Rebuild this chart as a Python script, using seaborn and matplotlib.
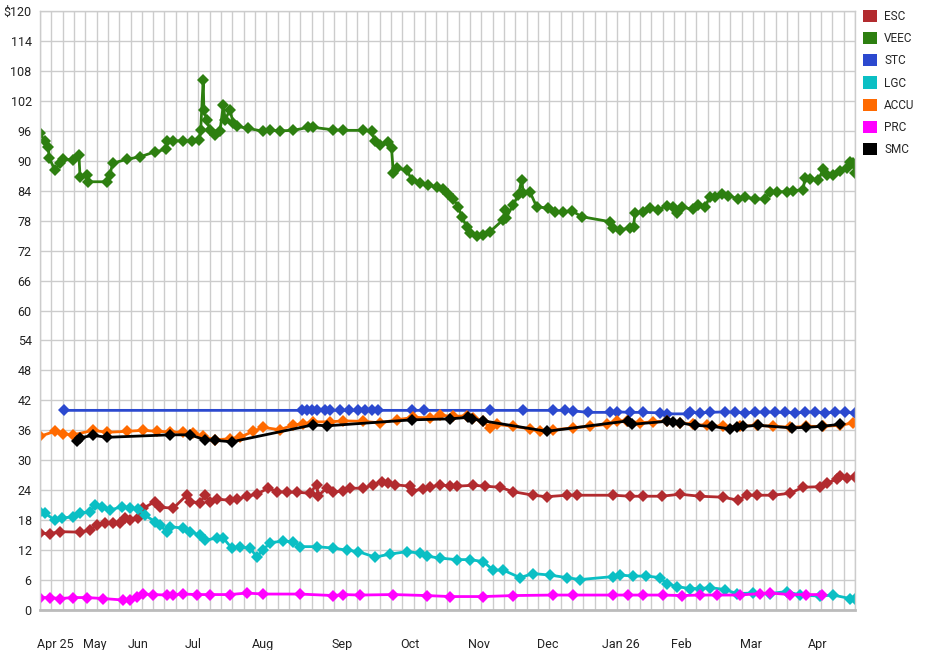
import pandas as pd
import matplotlib.pyplot as plt
from matplotlib.patches import Patch
import seaborn as sns

# (day, price) points, day 0 = left edge of the axis
esc = [(0, 15.4), (4.4, 15.3), (8.8, 15.7), (17.7, 15.6), (22.1, 16.0), (25.0, 17.0), (28.7, 17.4),
       (32.4, 17.4), (35.3, 17.5), (37.5, 18.4), (39.8, 18.0), (43.4, 18.4), (45.6, 20.4), (50.8, 21.7),
       (53.0, 20.6), (58.9, 20.4), (64.8, 23.0), (66.3, 21.7), (70.7, 21.5), (72.9, 23.0), (75.1, 21.7),
       (78.0, 22.2), (83.9, 22.0), (86.9, 22.2), (91.3, 22.8), (95.7, 23.2), (100.8, 24.4), (104.6, 23.7),
       (109.0, 23.6), (113.4, 23.6), (119.3, 23.4), (122.2, 25.1), (122.9, 22.9), (126.6, 24.4),
       (129.6, 23.7), (134.0, 23.8), (136.9, 24.4), (142.8, 24.4), (147.2, 25.1), (150.9, 25.7),
       (153.8, 25.4), (156.8, 25.1), (163.4, 24.8), (164.2, 23.9), (169.3, 24.2), (172.3, 24.6),
       (176.7, 25.1), (181.1, 24.8), (184.0, 24.8), (191.4, 25.0), (196.6, 24.8), (203.2, 24.6),
       (209.1, 23.7), (217.9, 23.0), (223.8, 22.7), (232.6, 23.0), (237.1, 23.0), (253.2, 23.0),
       (260.6, 22.8), (266.5, 22.8), (274.6, 22.8), (282.7, 23.2), (291.5, 22.8), (301.8, 22.6),
       (308.4, 22.0), (312.1, 23.0), (316.6, 23.0), (323.9, 23.0), (331.3, 23.4), (337.1, 24.6),
       (344.5, 24.7), (347.5, 25.4), (351.9, 26.2), (353.4, 26.9), (356.3, 26.4), (360, 26.7)]

veec = [(0, 95.5), (2.2, 93.9), (3.7, 92.8), (4.1, 90.5), (6.6, 88.2), (8.8, 89.5), (10.3, 90.3),
        (14.7, 90.2), (17.2, 91.2), (17.7, 86.8), (20.9, 87.2), (21.3, 85.8), (29.7, 85.8), (30.9, 87.2),
        (32.1, 89.5), (38.3, 90.3), (44.2, 90.8), (50.8, 91.8), (55.7, 92.3), (56.0, 94.0), (58.9, 94.0),
        (63.3, 94.0), (67.0, 94.0), (70.4, 94.2), (71.0, 96.2), (72.1, 106.2), (72.4, 100.2), (73.6, 98.2),
        (75.1, 96.2), (77.3, 95.2), (79.5, 95.9), (81.0, 101.2), (81.8, 98.2), (83.9, 100.2), (85.4, 97.5),
        (86.9, 96.9), (92.0, 96.5), (98.6, 95.9), (101.6, 96.1), (106.0, 96.0), (111.9, 96.1),
        (118.5, 96.7), (120.7, 96.7), (129.6, 96.2), (134.0, 96.1), (142.8, 96.1), (146.5, 95.9),
        (148.0, 93.9), (150.2, 93.2), (153.8, 93.7), (155.3, 92.5), (156.1, 87.5), (157.6, 88.5),
        (162.0, 88.2), (164.2, 86.2), (167.8, 85.6), (171.5, 85.2), (175.2, 84.7), (178.1, 84.3),
        (180.3, 83.4), (182.6, 82.3), (184.8, 80.8), (186.3, 78.8), (188.5, 76.8), (189.9, 75.5),
        (192.9, 74.9), (195.8, 75.2), (198.8, 75.8), (204.6, 78.2), (205.4, 80.2), (205.8, 78.5),
        (209.1, 81.2), (211.3, 83.2), (212.8, 86.2), (213.5, 83.5), (216.4, 83.8), (219.4, 80.8),
        (224.5, 80.5), (227.5, 79.8), (231.1, 79.8), (234.9, 80.0), (239.3, 78.8), (251.8, 77.8),
        (253.3, 76.5), (256.2, 76.2), (260.6, 76.5), (262.2, 76.8), (262.8, 79.5), (266.5, 79.8),
        (269.4, 80.5), (273.1, 80.2), (276.8, 81.0), (279.7, 80.8), (281.2, 79.5), (283.4, 80.7),
        (288.6, 80.3), (290.8, 81.2), (293.7, 80.7), (295.9, 82.8), (298.1, 82.8), (301.1, 83.4),
        (304.0, 83.0), (308.4, 82.4), (311.4, 82.7), (315.8, 82.4), (320.2, 82.3), (322.4, 83.8),
        (325.4, 83.8), (329.8, 83.8), (332.7, 84.0), (337.1, 84.2), (337.9, 86.5), (340.1, 86.3),
        (343.8, 86.2), (346.0, 88.3), (347.5, 87.2), (350.4, 87.2), (353.4, 87.9), (356.3, 88.5),
        (357.8, 89.8), (359.3, 89.5), (360, 87.5)]

stc = [(10.6, 40.0), (115.7, 40.0), (117.9, 40.0), (120.1, 40.0), (122.3, 40.0), (125.9, 40.0),
       (128.1, 40.0), (132.5, 40.0), (136.5, 40.0), (140.5, 40.0), (143.6, 40.0), (146.6, 40.0),
       (149.3, 40.0), (164.3, 40.0), (169.6, 40.0), (198.8, 40.0), (213.3, 40.0), (226.6, 40.0),
       (231.9, 40.0), (235.4, 39.9), (242.1, 39.6), (251.8, 39.6), (254.9, 39.7), (260.6, 39.6),
       (266.3, 39.6), (273.9, 39.5), (276.9, 39.3), (286.2, 39.3), (287.1, 39.6), (291.5, 39.5),
       (295.9, 39.6), (302.6, 39.7), (307.0, 39.6), (311.4, 39.5), (315.8, 39.6), (320.2, 39.7),
       (324.7, 39.6), (329.1, 39.6), (333.5, 39.5), (337.9, 39.6), (342.3, 39.7), (346.7, 39.5),
       (351.1, 39.6), (355.6, 39.7), (360, 39.4)]

lgc = [(0, 19.7), (2.2, 19.4), (6.6, 18.0), (9.6, 18.4), (14.7, 18.7), (17.7, 19.4), (22.1, 19.7),
       (24.3, 21.0), (27.3, 20.7), (30.9, 20.0), (36.1, 20.7), (39.8, 20.5), (43.4, 20.2), (46.4, 19.0),
       (50.8, 17.7), (53.0, 17.0), (56.0, 15.7), (57.4, 16.7), (63.3, 16.4), (66.3, 15.7), (70.7, 15.0),
       (72.9, 14.0), (78.0, 14.4), (81.0, 14.4), (84.7, 12.4), (88.3, 12.6), (92.8, 12.4), (95.7, 10.7),
       (98.6, 12.0), (101.6, 13.5), (107.5, 13.8), (111.9, 13.7), (114.8, 12.7), (122.2, 12.7),
       (129.6, 12.4), (135.5, 12.0), (140.6, 11.7), (148.0, 10.6), (154.6, 11.2), (162.0, 11.7),
       (167.8, 11.4), (170.8, 10.8), (176.7, 10.4), (184.0, 10.1), (189.9, 10.1), (195.8, 9.7),
       (200.2, 8.0), (204.6, 8.0), (212.0, 6.5), (217.9, 7.3), (225.3, 7.0), (232.6, 6.5), (238.5, 6.1),
       (253.2, 6.7), (256.2, 7.0), (262.1, 6.8), (267.9, 6.8), (273.9, 6.5), (276.8, 5.3), (281.2, 4.7),
       (287.1, 4.3), (291.5, 4.3), (295.9, 4.5), (302.6, 4.1), (307.7, 3.3), (315.1, 3.4), (322.4, 3.3),
       (329.8, 3.7), (335.7, 3.0), (344.5, 2.8), (350.4, 3.0), (357.8, 2.3), (360, 2.3)]

accu = [(0, 34.8), (6.6, 35.8), (10.3, 35.3), (14.7, 35.1), (23.5, 36.0), (29.5, 35.6), (38.3, 35.8),
        (45.6, 36.0), (51.5, 35.8), (57.4, 35.7), (63.3, 35.6), (67.7, 35.5), (72.1, 34.8), (77.3, 34.1),
        (83.9, 34.3), (88.3, 34.6), (94.2, 35.8), (98.6, 36.6), (106.0, 36.1), (111.9, 37.1),
        (116.3, 37.3), (120.7, 37.7), (128.1, 37.7), (134.0, 37.9), (142.8, 37.8), (150.2, 37.5),
        (157.6, 38.1), (164.9, 38.6), (172.3, 38.5), (176.7, 39.0), (182.6, 38.8), (188.5, 38.9),
        (191.4, 38.5), (195.8, 37.8), (198.8, 36.5), (201.7, 37.2), (209.1, 36.8), (216.4, 36.3),
        (220.9, 35.8), (226.7, 36.1), (235.6, 36.5), (242.9, 36.8), (250.3, 37.2), (254.7, 37.9),
        (259.2, 37.9), (265.0, 37.5), (270.9, 37.7), (276.8, 37.9), (282.7, 37.5), (288.6, 37.2),
        (294.5, 37.0), (301.8, 36.8), (309.2, 36.8), (316.6, 37.0), (323.9, 36.8), (331.3, 36.6),
        (338.6, 36.8), (346.0, 36.8), (353.4, 37.0), (359.3, 37.5)]

prc = [(0, 2.5), (4.4, 2.5), (8.8, 2.3), (14.7, 2.5), (20.6, 2.5), (28.0, 2.3), (36.8, 2.0), (39.8, 2.0),
       (42.7, 2.6), (45.6, 3.2), (50.0, 3.1), (56.0, 3.0), (58.9, 3.1), (63.3, 3.2), (69.2, 3.1),
       (75.1, 3.1), (83.9, 3.1), (91.3, 3.4), (98.6, 3.2), (114.8, 3.2), (129.6, 2.9), (134.0, 3.1),
       (141.3, 3.0), (156.1, 3.1), (170.8, 2.9), (181.1, 2.7), (195.8, 2.7), (209.1, 2.9), (226.7, 3.0),
       (235.6, 3.0), (253.2, 3.0), (259.9, 3.0), (266.5, 3.0), (275.3, 3.0), (283.4, 2.9), (291.5, 3.0),
       (298.9, 3.0), (309.2, 3.0), (318.0, 3.3), (322.4, 3.4), (331.3, 3.1), (338.6, 3.1), (345.3, 3.1)]

smc = [(16.2, 33.8), (17.7, 34.5), (23.5, 35.0), (29.5, 34.6), (57.4, 35.1), (66.3, 35.1), (72.9, 34.1),
       (77.3, 34.0), (84.7, 33.7), (120.7, 37.1), (126.6, 36.9), (164.2, 38.1), (181.1, 38.3),
       (189.2, 38.6), (190.7, 38.3), (195.8, 37.9), (223.8, 35.8), (259.9, 37.9), (261.3, 37.2),
       (276.8, 37.8), (279.7, 37.7), (282.7, 37.5), (289.3, 37.0), (296.7, 36.8), (304.8, 36.3),
       (307.7, 36.6), (310.6, 36.8), (317.3, 37.0), (332.0, 36.5), (338.6, 36.6), (345.3, 36.8),
       (353.4, 37.2)]

series_names = ["ESC", "VEEC", "STC", "LGC", "ACCU", "PRC", "SMC"]
series_colors = ["#b22b2f", "#2d7f10", "#2b49cf", "#0bbfc4", "#ff6a00", "#ff00ff", "#000000"]

month_pos = [6.9, 24.3, 43.4, 67.7, 98.6, 133.5, 163.4, 194.0, 224.1, 256.5, 283.4, 313.9, 343.4]
month_labels = ["Apr 25", "May", "Jun", "Jul", "Aug", "Sep", "Oct", "Nov", "Dec",
                "Jan 26", "Feb", "Mar", "Apr"]
y_ticks = list(range(0, 121, 6))

# long-form table for seaborn
rows = []
for name, pts in zip(series_names, [esc, veec, stc, lgc, accu, prc, smc]):
    for d, v in pts:
        rows.append({"day": d, "price": v, "series": name})
df = pd.DataFrame(rows)

sns.set_style("white")
plt.rcParams["font.family"] = ["Roboto", "DejaVu Sans"]

fig = plt.figure(figsize=(9.45, 6.5), dpi=100)
ax = fig.add_axes([0.0423, 0.0615, 0.8624, 0.9215])

sns.lineplot(data=df, x="day", y="price", hue="series", hue_order=series_names,
             palette=dict(zip(series_names, series_colors)), estimator=None, sort=False,
             marker="D", markersize=6, markeredgewidth=0, linewidth=2, legend=False, ax=ax)

ax.set_xlim(0, 360)
ax.set_ylim(0, 120)
ax.set_xlabel("")
ax.set_ylabel("")

ax.set_xticks(month_pos)
ax.set_xticklabels(month_labels)
ax.set_xticks(range(0, 361, 5), minor=True)
ax.set_yticks(y_ticks)
ax.set_yticklabels([str(t) if t < 120 else "$120" for t in y_ticks])

ax.grid(False)
ax.xaxis.grid(True, which="minor", color="#cccccc", linewidth=1)
ax.yaxis.grid(True, which="major", color="#cccccc", linewidth=1)
ax.set_axisbelow(True)
ax.tick_params(axis="x", which="both", length=0, pad=20, labelsize=9, labelcolor="#222222")
ax.tick_params(axis="y", length=0, pad=6, labelsize=9, labelcolor="#222222")

for side in ["left", "top", "right"]:
    ax.spines[side].set_color("#cccccc")
    ax.spines[side].set_linewidth(1)
ax.spines["bottom"].set_color("#bbbbbb")
ax.spines["bottom"].set_linewidth(2)

handles = [Patch(facecolor=c, edgecolor="none", label=n) for n, c in zip(series_names, series_colors)]
fig.legend(handles=handles, loc="upper left", bbox_to_anchor=(0.913, 0.985), frameon=False,
           handlelength=1.2, handleheight=1.2, handletextpad=0.6, labelspacing=0.78,
           fontsize=8.5, borderaxespad=0, borderpad=0)

plt.savefig("out.png", dpi=100)
